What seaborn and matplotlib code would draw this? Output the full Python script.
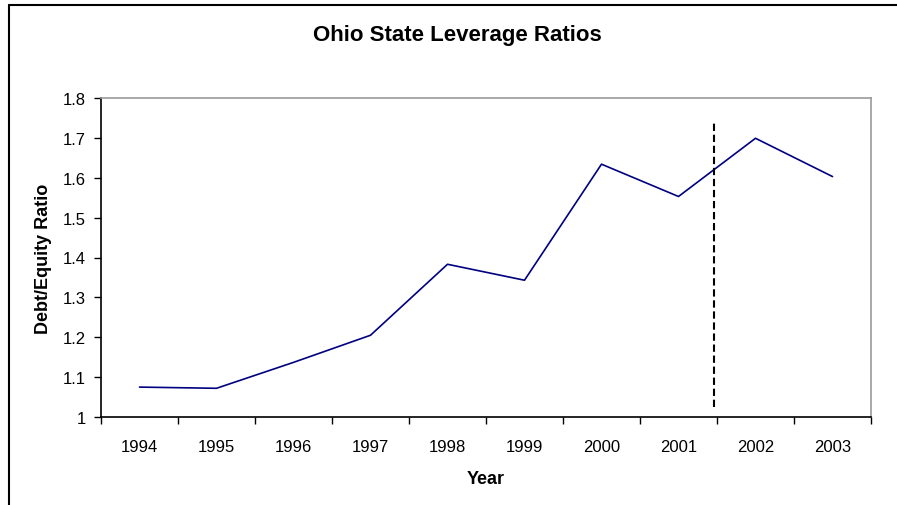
import numpy as np
import pandas as pd
import matplotlib
matplotlib.use("Agg")
import matplotlib.pyplot as plt
from matplotlib.lines import Line2D
import seaborn as sns

years = ["1994", "1995", "1996", "1997", "1998", "1999", "2000", "2001", "2002", "2003"]
ratios = [1.075, 1.072, 1.137, 1.205, 1.383, 1.343, 1.634, 1.553, 1.699, 1.603]
yticks = [1.0, 1.1, 1.2, 1.3, 1.4, 1.5, 1.6, 1.7, 1.8]
ytick_labels = ["1", "1.1", "1.2", "1.3", "1.4", "1.5", "1.6", "1.7", "1.8"]
marker_x = 7.46

sns.set_theme(style="white")
plt.rcParams['font.family'] = ['Liberation Sans', 'DejaVu Sans']
plt.rcParams['text.color'] = 'black'
plt.rcParams['axes.labelcolor'] = 'black'

df = pd.DataFrame({"Year": years, "Ratio": ratios})

fig = plt.figure(figsize=(8.97, 5.06), dpi=100)
ax = fig.add_axes([101/897, 1-418/506, (871-101)/897, (418-99)/506])

pos = np.arange(len(years))
sns.lineplot(x=pos, y=df["Ratio"], ax=ax, color="#000080", linewidth=1.2)

ax.plot([marker_x, marker_x], [1.025, 1.745], color="black", linestyle=(0, (3.5, 1.8)), linewidth=1.5)

ax.set_xlim(-0.5, len(years) - 0.5)
ax.set_ylim(1.0, 1.8)
ax.set_yticks(yticks)
ax.set_yticklabels(ytick_labels)
ax.set_xticks(np.arange(len(years) + 1) - 0.5)
ax.set_xticklabels([])
ax.set_xticks(pos, minor=True)
ax.set_xticklabels(years, minor=True)
ax.tick_params(axis="x", which="major", direction="out", length=5, width=1, color="black", bottom=True)
ax.tick_params(axis="x", which="minor", length=0, labelsize=12, pad=15.5, labelcolor="black")
ax.tick_params(axis="y", direction="out", length=5, width=1, color="black", left=True, labelsize=12, labelcolor="black", pad=6)

for s in ["left", "bottom"]:
    ax.spines[s].set_color("black")
    ax.spines[s].set_linewidth(1.2)
for s in ["top", "right"]:
    ax.spines[s].set_color("#999999")
    ax.spines[s].set_linewidth(1.2)
ax.grid(False)

ax.set_xlabel("Year", fontsize=13, fontweight="bold", labelpad=12)
ax.set_ylabel("Debt/Equity Ratio", fontsize=13, fontweight="bold", labelpad=7.5)
fig.text(457/897, 1-36/506, "Ohio State Leverage Ratios", ha="center", va="center",
         fontsize=16, fontweight="bold", color="black")

# chart border (left and top visible)
fig.add_artist(Line2D([8.5/897, 8.5/897], [0, 1-5.5/506], transform=fig.transFigure, color="black", linewidth=1.5))
fig.add_artist(Line2D([8.5/897, 1], [1-5.5/506, 1-5.5/506], transform=fig.transFigure, color="black", linewidth=1.5))

fig.savefig("out.png", dpi=100)
